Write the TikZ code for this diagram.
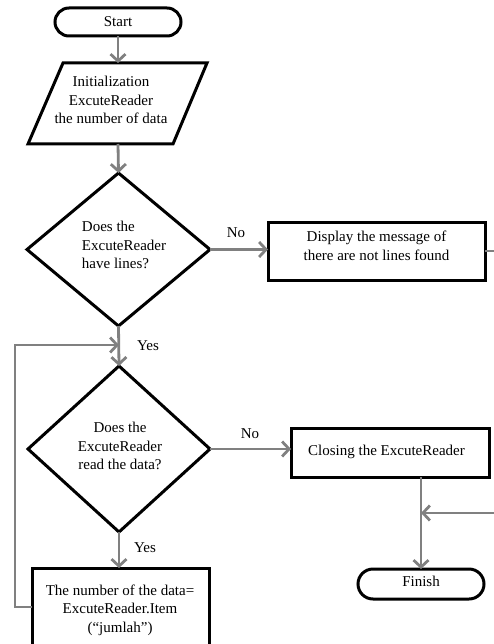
\documentclass[tikz,border=0pt]{standalone}
\usepackage{fontspec}
\setmainfont{Liberation Serif}
\usetikzlibrary{arrows.meta,shapes.geometric}
\definecolor{flowgray}{RGB}{128,128,128}
\begin{document}
\begin{tikzpicture}[x=1pt,y=-1pt,
  every node/.style={font=\fontsize{15}{18.5}\selectfont, inner sep=0pt, outer sep=0pt},
  box/.style={draw=black, line width=3pt, fill=white},
  term/.style={box, rounded corners=14pt},
  decision/.style={box, diamond},
  txt/.style={align=center},
  flow/.style={draw=flowgray, line width=2.8pt, -{Straight Barb[length=7pt,width=15pt]}}
]
\useasboundingbox (0,0) rectangle (494,644);
\clip (0,0) rectangle (494,644);

% terminals
\node[term, minimum width=126, minimum height=28] (start) at (118,22) {Start};
\node[term, minimum width=126, minimum height=30, rounded corners=15pt] (fin) at (421,584) {};
\node[txt] (fin-text) at (421,581) {Finish};

% input parallelogram
\draw[box] (63,63) -- (207,63) -- (173,144) -- (28,144) -- cycle;
\coordinate (init-top) at (118,63);
\coordinate (init-bot) at (118,144);
\node[txt] (init) at (111,100) {Initialization\\ExcuteReader\\the number of data};

% decisions
\node[decision, minimum width=183, minimum height=153] (d1) at (118.5,249.5) {};
\node[align=left] (d1-text) at (124,245) {Does the\\ExcuteReader\\have lines?};
\node[decision, minimum width=182, minimum height=166] (d2) at (119,449) {};
\node[txt] (d2-text) at (120,446) {Does the\\ExcuteReader\\read the data?};

% processes
\node[box, minimum width=217, minimum height=58] (disp) at (376.5,251) {};
\node[txt] (disp-text) at (376.5,246) {Display the message of\\there are not lines found};
\node[box, minimum width=198, minimum height=49] (close) at (390,452.5) {};
\node[txt] (close-text) at (386.5,452) {Closing the ExcuteReader};
\node[box, minimum width=177, minimum height=78] (proc) at (120.5,607) {};
\node[txt] (proc-text) at (120,610) {The number of the data=\\ExcuteReader.Item\\(“jumlah”)};

% labels
\node (no1) at (236,233) {No};
\node (yes1) at (148,346) {Yes};
\node (no2) at (250,434) {No};
\node (yes2) at (145,548) {Yes};

% helper points for the routed connectors
\coordinate (yesjoin) at (119,345);
\coordinate (loopx) at (15,0);
\coordinate (finjoin) at (421,513);
\coordinate (rightx) at (502,0);

% connectors
\draw[flow] (start.south) -- (init-top);
\draw[flow] (init-bot) -- (d1.north);
\draw[flow] (d1.east) -- (d1.east -| disp.west);
\draw[flow] (d1.south) -- (d2.north);
\draw[flow] (d2.east) -- (d2.east -| close.west);
\draw[flow] (d2.south) -- (d2.south |- proc.north);
\draw[flow] (proc.west) -- (proc.west -| loopx) |- (yesjoin);
\draw[flow] (close.south -| fin.north) -- (fin.north);
\draw[flow] (disp.east) -- (disp.east -| rightx) |- (finjoin);
\end{tikzpicture}
\end{document}
